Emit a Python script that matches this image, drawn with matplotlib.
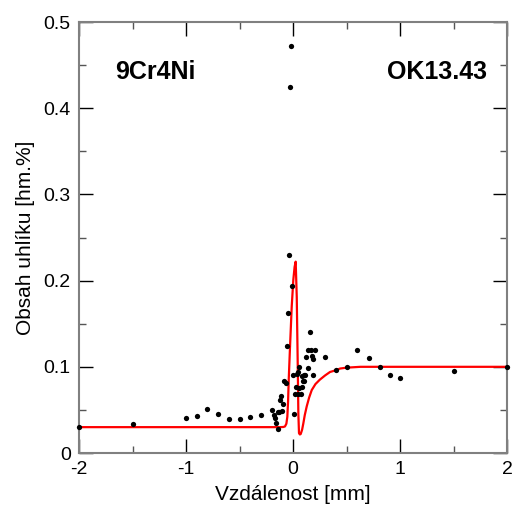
import matplotlib.pyplot as plt
from matplotlib.ticker import MultipleLocator

plt.rcParams['font.family'] = ['Liberation Sans', 'DejaVu Sans']

# measured carbon content across the weld joint
dist = [-2.0, -1.5, -1.0, -0.9, -0.8, -0.7, -0.6, -0.5, -0.4, -0.3,
        -0.196, -0.18, -0.17, -0.16, -0.14, -0.14, -0.13, -0.10, -0.09, -0.12,
        -0.11, -0.08, -0.07, -0.056, -0.05, -0.01, -0.037, -0.03, -0.02,
        0.003, 0.012, 0.028, 0.022, 0.04, 0.044, 0.05, 0.06, 0.06, 0.075,
        0.08, 0.087, 0.09, 0.10, 0.105, 0.115, 0.12, 0.137, 0.143, 0.16,
        0.165, 0.175, 0.187, 0.19, 0.205, 0.30, 0.40, 0.50, 0.60, 0.71,
        0.81, 0.91, 1.00, 1.50, 2.00]
carbon = [0.030, 0.034, 0.041, 0.043, 0.051, 0.045, 0.039, 0.039, 0.042, 0.044,
          0.050, 0.044, 0.041, 0.035, 0.028, 0.047, 0.048, 0.049, 0.057, 0.062,
          0.066, 0.084, 0.081, 0.124, 0.162, 0.194, 0.230, 0.425, 0.472,
          0.091, 0.045, 0.077, 0.069, 0.092, 0.069, 0.094, 0.100, 0.076, 0.069,
          0.077, 0.089, 0.084, 0.091, 0.083, 0.090, 0.111, 0.120, 0.099, 0.140,
          0.120, 0.113, 0.109, 0.090, 0.120, 0.111, 0.096, 0.100, 0.120, 0.110,
          0.100, 0.091, 0.087, 0.095, 0.100]

# calculated profile
calc_x = [-2.0, -0.12, -0.09, -0.075, -0.062, -0.053, -0.046, -0.040, -0.028,
          -0.012, 0.003, 0.015, 0.025, 0.035, 0.044, 0.050, 0.056, 0.064,
          0.072, 0.085, 0.096, 0.11, 0.128, 0.15, 0.175, 0.21, 0.25, 0.30,
          0.346, 0.40, 0.44, 0.50, 0.63, 0.80, 2.0]
calc_y = [0.030, 0.030, 0.0302, 0.0308, 0.034, 0.042, 0.060, 0.085, 0.123,
          0.170, 0.201, 0.216, 0.222, 0.181, 0.104, 0.046, 0.023, 0.0215,
          0.022, 0.027, 0.034, 0.044, 0.054, 0.064, 0.073, 0.080, 0.085, 0.090,
          0.094, 0.096, 0.098, 0.099, 0.100, 0.100, 0.100]

fig = plt.figure(figsize=(5.14, 5.07), dpi=100)
ax = fig.add_axes([0.1537, 0.1065, 0.8327, 0.850])

ax.plot(calc_x, calc_y, color='red', lw=1.6, zorder=2)
ax.plot(dist, carbon, 'o', color='black', ms=3.8, mec='none', clip_on=False, zorder=3)

ax.set_xlim(-2, 2)
ax.set_ylim(0, 0.5)
ax.xaxis.set_major_locator(MultipleLocator(1))
ax.xaxis.set_minor_locator(MultipleLocator(0.5))
ax.yaxis.set_major_locator(MultipleLocator(0.1))
ax.yaxis.set_minor_locator(MultipleLocator(0.05))
ax.xaxis.set_major_formatter(plt.FuncFormatter(lambda v, p: f'{v:g}'))
ax.yaxis.set_major_formatter(plt.FuncFormatter(lambda v, p: f'{v:g}'))

ax.tick_params(which='both', direction='in', top=True, right=True, labelsize=14, color='black')
ax.tick_params(which='major', length=10, width=1, pad=6)
ax.tick_params(which='minor', length=5, width=1, color='#555555')
for s in ax.spines.values():
    s.set_color('#808080')
    s.set_linewidth(1.5)

ax.set_xlabel('Vzdálenost [mm]', fontsize=15, labelpad=5)
ax.set_ylabel('Obsah uhlíku [hm.%]', fontsize=15, labelpad=6)

ax.text(0.178, 0.884, '9Cr4Ni', transform=ax.transAxes, fontsize=18,
        fontweight='bold', ha='center', va='center')
ax.text(0.836, 0.884, 'OK13.43', transform=ax.transAxes, fontsize=18,
        fontweight='bold', ha='center', va='center')

fig.savefig('out.png', dpi=100)
